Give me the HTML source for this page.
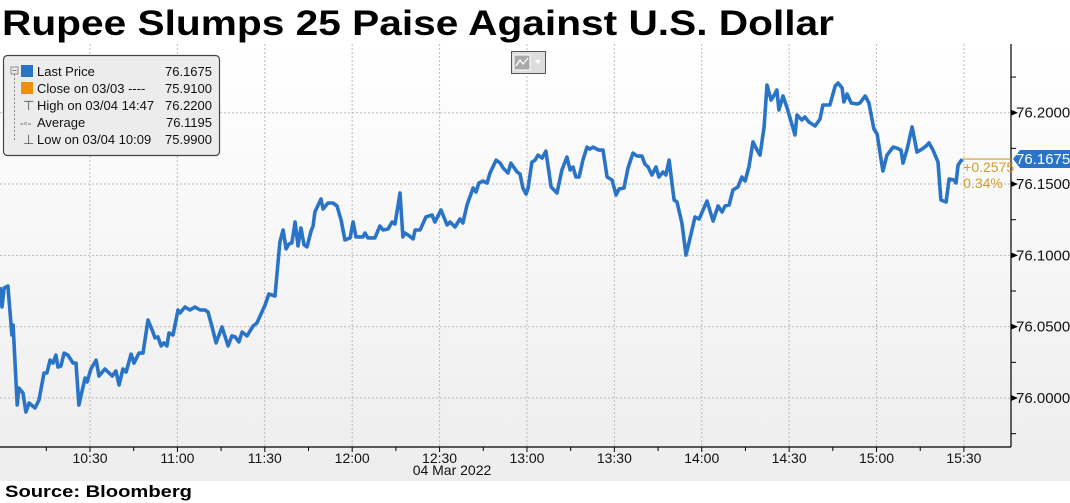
<!DOCTYPE html>
<html><head><meta charset="utf-8"><style>
html,body{margin:0;padding:0;background:#fff;}
svg{display:block;font-family:"Liberation Sans",sans-serif;}
</style></head><body>
<svg id="chart" width="1070" height="503" viewBox="0 0 1070 503">
<defs>
<linearGradient id="bg" x1="0" y1="0" x2="0" y2="1"><stop offset="0" stop-color="#ffffff"/><stop offset="1" stop-color="#ededed"/></linearGradient>
</defs>
<text x="2" y="35" font-size="35" font-weight="bold" fill="#000" textLength="832" lengthAdjust="spacingAndGlyphs">Rupee Slumps 25 Paise Against U.S. Dollar</text>
<rect x="0" y="44" width="1070" height="437" fill="url(#bg)"/>
<g id="grid"></g>
<g id="axes"></g>
<polyline id="line" fill="none" stroke="#2a74c8" stroke-width="3.6" stroke-linejoin="round"/>
<g id="lastmark"></g>
<g>
<rect x="3.5" y="55.5" width="216" height="100" rx="4" fill="#ececec" stroke="#444" stroke-width="1.2"/>
<g font-size="13" fill="#111">
<rect x="11" y="67" width="7" height="7" fill="none" stroke="#777" stroke-width="0.8"/><line x1="12.5" y1="70.5" x2="16.5" y2="70.5" stroke="#777"/>
<line x1="14.5" y1="74" x2="14.5" y2="141" stroke="#888" stroke-dasharray="2,2"/>
<rect x="21" y="65" width="12" height="12" fill="#2a74c8"/>
<text x="37" y="76">Last Price</text><text x="212" y="76" text-anchor="end">76.1675</text>
<rect x="21" y="82" width="12" height="12" fill="#f0900a"/>
<text x="37" y="93">Close on 03/03 ----</text><text x="212" y="93" text-anchor="end">75.9100</text>
<text x="23" y="110" fill="#555">⊤</text><text x="37" y="110">High on 03/04 14:47</text><text x="212" y="110" text-anchor="end">76.2200</text>
<text x="20" y="127" fill="#555" font-size="11">-◦-</text><text x="37" y="127">Average</text><text x="212" y="127" text-anchor="end">76.1195</text>
<text x="23" y="144" fill="#555">⊥</text><text x="37" y="144">Low on 03/04 10:09</text><text x="212" y="144" text-anchor="end">75.9900</text>
</g></g>
<g>
<rect x="511.5" y="51.5" width="34" height="22" fill="#ddd" stroke="#555"/>
<rect x="514" y="55" width="16" height="15" fill="#aaa" stroke="#fff" stroke-width="1"/>
<polyline points="516,66 520,60 523,64 528,58" fill="none" stroke="#fff" stroke-width="1.3"/>
<polygon points="535,60 541,60 538,64" fill="#fff"/>
</g>
<text x="5" y="497" font-size="17" font-weight="bold" fill="#000" textLength="187" lengthAdjust="spacingAndGlyphs">Source:  Bloomberg</text>
</svg>
<script>
const times=[-0.9,-0.2,0.5,1.8,3.2,3.6,5.0,5.6,7.0,8.0,9.1,11.1,12.5,14.2,15.2,16.3,17.3,18.3,19.0,20.0,21.1,22.4,24.2,25.2,26.2,27.6,28.3,29.0,30.3,32.1,33.1,35.1,37.6,38.9,40.0,41.3,42.4,44.1,45.1,46.8,48.2,49.9,51.6,52.3,53.3,54.4,55.4,56.4,57.1,58.5,60.2,60.9,62.6,64.3,66.0,67.8,69.5,70.5,71.9,73.3,75.3,77.4,78.7,79.8,81.1,82.2,83.9,86.0,87.3,89.0,90.1,91.4,93.5,95.2,96.3,97.3,98.3,99.3,100.4,101.4,102.4,103.5,104.5,105.9,106.6,107.2,109.3,110.0,111.7,113.4,114.8,116.2,117.5,119.3,120.3,121.3,123.7,124.4,125.4,127.8,129.5,130.6,132.3,133.7,134.7,136.4,137.4,138.1,139.2,140.9,141.6,143.3,145.3,147.4,148.4,150.5,152.6,153.6,155.3,157.0,158.0,159.4,161.5,162.5,163.5,164.9,166.3,167.3,169.4,170.8,171.8,173.5,174.5,176.6,177.6,178.6,179.7,180.4,181.7,182.8,183.8,185.2,186.5,188.3,190.3,192.0,193.7,194.8,195.8,196.8,197.9,199.2,200.6,201.6,202.7,204.7,206.1,207.5,209.2,210.6,211.6,213.3,214.7,216.4,217.8,219.5,220.5,221.6,222.9,224.3,225.3,226.7,227.7,228.8,230.5,231.5,233.2,234.6,236.0,237.7,239.1,241.8,243.9,245.6,247.0,248.0,249.4,250.7,252.4,253.8,254.9,256.2,257.6,259.0,260.0,261.4,262.4,263.8,264.5,265.8,266.5,267.9,269.3,272.0,272.7,274.4,275.4,276.8,278.9,280.6,281.6,284.0,285.8,286.8,288.2,288.8,289.9,291.3,293.3,294.3,296.1,297.4,299.1,300.2,302.2,303.6,305.7,307.0,308.4,309.1,310.5,312.2,313.9,315.6,317.0,318.0,319.4,321.1,322.1,323.9,324.9,326.6,327.3,328.0,329.4];
const prices=[76.0778,76.0638,76.0771,76.0785,76.0442,76.0512,75.9951,76.0070,76.0035,75.9902,75.9965,75.9930,75.9986,76.0175,76.0175,76.0266,76.0245,76.0301,76.0217,76.0224,76.0315,76.0301,76.0245,76.0245,75.9951,76.0077,76.0140,76.0112,76.0203,76.0266,76.0154,76.0203,76.0154,76.0189,76.0091,76.0203,76.0182,76.0308,76.0245,76.0315,76.0315,76.0547,76.0463,76.0421,76.0428,76.0365,76.0386,76.0365,76.0456,76.0442,76.0617,76.0596,76.0638,76.0617,76.0638,76.0617,76.0617,76.0603,76.0498,76.0386,76.0498,76.0365,76.0435,76.0428,76.0393,76.0463,76.0435,76.0505,76.0526,76.0603,76.0652,76.0729,76.0715,76.1094,76.1178,76.1045,76.1080,76.1087,76.1234,76.1066,76.1192,76.1073,76.1059,76.1171,76.1206,76.1304,76.1395,76.1325,76.1367,76.1367,76.1346,76.1248,76.1108,76.1122,76.1234,76.1129,76.1129,76.1157,76.1122,76.1122,76.1206,76.1178,76.1185,76.1234,76.1220,76.1437,76.1129,76.1157,76.1143,76.1115,76.1178,76.1178,76.1269,76.1283,76.1234,76.1318,76.1213,76.1234,76.1199,76.1255,76.1227,76.1353,76.1472,76.1444,76.1507,76.1521,76.1507,76.1577,76.1668,76.1647,76.1612,76.1577,76.1647,76.1584,76.1570,76.1472,76.1430,76.1472,76.1654,76.1668,76.1703,76.1682,76.1731,76.1479,76.1437,76.1598,76.1689,76.1598,76.1619,76.1549,76.1549,76.1668,76.1759,76.1745,76.1759,76.1738,76.1738,76.1549,76.1528,76.1423,76.1465,76.1472,76.1612,76.1717,76.1696,76.1696,76.1640,76.1619,76.1563,76.1619,76.1549,76.1584,76.1563,76.1668,76.1388,76.1374,76.1227,76.1002,76.1122,76.1269,76.1255,76.1381,76.1241,76.1346,76.1304,76.1346,76.1353,76.1458,76.1479,76.1549,76.1521,76.1619,76.1795,76.1738,76.1703,76.1900,76.2194,76.2089,76.2110,76.2159,76.2019,76.2117,76.2033,76.1844,76.1984,76.1949,76.1970,76.1935,76.1907,76.1956,76.2054,76.2054,76.2187,76.2208,76.2173,76.2075,76.2131,76.2068,76.2061,76.2068,76.2117,76.2068,76.1886,76.1851,76.1591,76.1703,76.1759,76.1752,76.1738,76.1647,76.1745,76.1900,76.1724,76.1745,76.1766,76.1788,76.1738,76.1654,76.1388,76.1374,76.1535,76.1528,76.1507,76.1633,76.1675];
const yTicks=[76.0,76.05,76.1,76.15,76.2];
const yTickLabels=["76.0000","76.0500","76.1000","76.1500","76.2000"];
const xTicks=[30,60,90,120,150,180,210,240,270,300,330];
const xTickLabels=["10:30","11:00","11:30","12:00","12:30","13:00","13:30","14:00","14:30","15:00","15:30"];
const lastValue=76.1675, changeLabel="+0.2575", pctLabel="0.34%";

const NS="http://www.w3.org/2000/svg";
const X=t=>(t+0.9)*2.913;
const Y=v=>(76.279-v)/0.000701;
const AX=1011, AB=447, TOP=44;
function mk(tag,attrs,parent,text){const e=document.createElementNS(NS,tag);for(const k in attrs)e.setAttribute(k,attrs[k]);if(text!=null)e.textContent=text;parent.appendChild(e);return e;}
const grid=document.getElementById('grid'), axes=document.getElementById('axes');
yTicks.forEach((v,i)=>{
  const y=Y(v);
  const g=mk('line',{x1:0,x2:AX,y1:y,y2:y,stroke:'#bbb','stroke-dasharray':'2,2'},grid);
  
  
  mk('polygon',{points:`${AX},${y-3} ${AX+7},${y} ${AX},${y+3}`,fill:'#000'},axes);
  const t=mk('text',{x:1016,y:y+5,'font-size':15,fill:'#111'},axes,yTickLabels[i]);
  
  
});
for(let v=75.975;v<76.25;v+=0.05){const y=Y(v);if(y>TOP&&y<AB)mk('line',{x1:AX,x2:AX+5,y1:y,y2:y,stroke:'#000'},axes);}
xTicks.forEach((t,i)=>{
  const x=X(t);
  const g=mk('line',{x1:x,x2:x,y1:TOP,y2:AB,stroke:'#bbb','stroke-dasharray':'2,2'},grid);
  
  
  mk('line',{x1:x,x2:x,y1:AB,y2:AB+5,stroke:'#000'},axes);
  const l=mk('text',{x:x,y:AB+16,'font-size':14,fill:'#111','text-anchor':'middle'},axes,xTickLabels[i]);
  
  
  const m=X(t-15);
  if(m>0)mk('line',{x1:m,x2:m,y1:AB,y2:AB+4,stroke:'#000'},axes);
});
mk('line',{x1:0,x2:AX,y1:AB,y2:AB,stroke:'#000','stroke-width':1.2},axes);
mk('line',{x1:AX,x2:AX,y1:TOP,y2:AB,stroke:'#000','stroke-width':1.2},axes);
const d=mk('text',{x:452,y:475,'font-size':14,fill:'#111','text-anchor':'middle'},axes,"04 Mar 2022");


document.getElementById('line').setAttribute('points',times.map((t,i)=>X(t).toFixed(1)+','+Y(prices[i]).toFixed(1)).join(' '));
const lm=document.getElementById('lastmark');
const ly=Y(lastValue), lx=X(times[times.length-1]);
mk('line',{x1:lx,x2:AX,y1:ly,y2:ly,stroke:'#d49a2a','stroke-width':1.2},lm);
const tag=mk('polygon',{points:`${AX+2},${ly} ${AX+9},${ly-9} 1070,${ly-9} 1070,${ly+9} ${AX+9},${ly+9}`,fill:'#2a74c8'},lm);


mk('text',{x:1016,y:ly+5,'font-size':15,fill:'#fff'},lm,lastValue.toFixed(4));
const c1=mk('text',{x:lx+1,y:ly+13,'font-size':14,fill:'#d49a2a'},lm,changeLabel);


const c2=mk('text',{x:lx+1,y:ly+29,'font-size':14,fill:'#d49a2a'},lm,pctLabel);


</script>
</body></html>
